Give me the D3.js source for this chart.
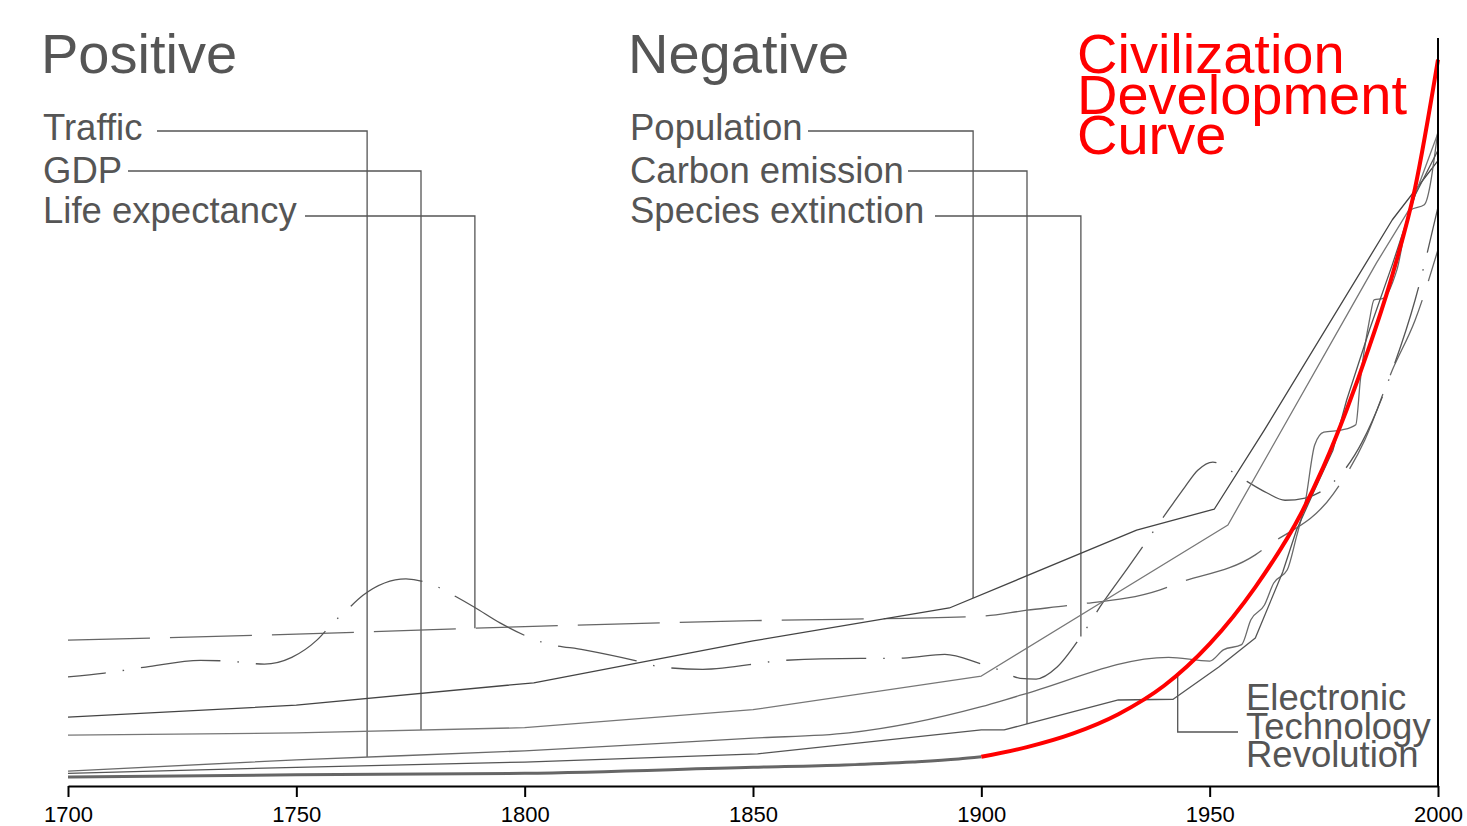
<!DOCTYPE html>
<html>
<head>
<meta charset="utf-8">
<script src="https://cdn.jsdelivr.net/npm/d3@7"></script>
<style>
  html, body { margin: 0; padding: 0; background: #fff; }
  svg { display: block; font-family: "Liberation Sans", Arial, sans-serif; }
</style>
</head>
<body>
<svg id="chart" width="1467" height="826"></svg>
<script>
// ---------------- DATA ----------------
const xTicks = [1700, 1750, 1800, 1850, 1900, 1950, 2000];

const positiveLabels = ["Traffic", "GDP", "Life expectancy"];
const negativeLabels = ["Population", "Carbon emission", "Species extinction"];
const curveTitle = ["Civilization", "Development", "Curve"];
const eventLabel = ["Electronic", "Technology", "Revolution"];
const eventYear = 1943;

// Civilization development curve: grey part before 1900, red part after
const civBase = [[1700,1.2],[1750,1.5],[1800,1.7],[1850,2.5],[1870,2.8],[1885,3.2],[1895,3.6],[1900,3.9]];
const civRed = [[1900,3.9],[1910,5.2],[1920,7.0],[1930,9.6],[1940,13.4],[1950,19.0],[1960,26.6],
  [1970,36.4],[1975,42.8],[1980,50.3],[1985,58.8],[1990,68.3],[1995,80.0],[2000,97.1]];

// Population (solid, darkest)
const population = [[1700,9.2],[1750,10.8],[1802,13.8],[1850,19.4],[1893,23.8],[1934,34.2],
  [1951,37.0],[1962,47.6],[1990,75.7],[2000,83.6]];

// GDP (solid, light)
const gdp = [[1700,6.8],[1750,7.1],[1800,7.8],[1850,10.2],[1900,14.7],[1954,34.9],
  [1986.5,69.9],[1994,77.4],[2000,87.3]];

// Traffic (solid, wavy near the end)
const traffic = [[1700,2.0],[1750,3.5],[1800,4.7],[1850,6.4],[1871,7.1],[1900,10.6],[1909,12.2],
  [1941,17.2],[1950,16.7],[1953,18.2],[1957,18.9],[1959,22.2],[1962,24.2],[1964,27.1],[1967,28.9],
  [1969,33.3],[1971,38.2],[1973,45.6],[1975,47.3],[1979,47.6],[1982,48.3],[1983,54.3],[1985,62.3],
  [1986,65.0],[1988,65.2],[1991,69.0],[1994,77.0],[1997,77.7],[2000,87.7]];

// Carbon emission (solid)
const carbon = [[1700,1.7],[1750,2.5],[1800,3.2],[1851,4.3],[1900,7.5],[1905,7.5],[1910,8.3],
  [1930,11.5],[1942,11.6],[1952,15.9],[1960,19.8],[1966,28.6],[1969,34.2],[1973,39.6],[1977,44.9],
  [1980,51.6],[1985,61.0],[1990,69.7],[1995,79.0],[2000,85.0]];

// Life expectancy (long dash)
const lifeExpectancy = [[1700,19.5],[1750,20.3],[1800,21.3],[1850,22.1],[1900,22.7],[1910,23.5],
  [1920,24.2],[1939,26.2],[1943,27.1],[1960,30.9],[1963,32.2],[1977,39.0],[1984,46.3],[1990,55.6],
  [1995,62.3],[2000,71.7]];

// Species extinction (dash-dot)
const species = [[1700,14.6],[1708,15.1],[1717,15.9],[1729,16.8],[1735,16.7],[1743,16.3],[1749,17.2],
  [1754.5,19.5],[1758,21.8],[1761,23.5],[1764.6,25.5],[1774,27.7],[1781,26.6],[1785,25.3],[1789,23.9],
  [1794.6,21.8],[1804.5,19.1],[1813,18.2],[1824,16.8],[1830,15.9],[1839,15.6],[1857,16.8],[1865,17.0],
  [1883,17.1],[1892,17.6],[1900,16.3],[1904,15.5],[1908.5,14.4],[1912,14.3],[1916.6,15.9],[1921.6,19.8],
  [1926.6,24.5],[1932,29.1],[1942,37.8],[1944.6,40.0],[1947.4,42.2],[1950.7,43.3],[1954.4,42.2],
  [1957.7,40.9],[1962.5,39.2],[1966.5,38.2],[1970.9,38.5],[1983.4,46.0],[1990,55.6],[1995,65.0],[2000,77.4]];

// Leader line target years (where labels point on their series)
const positiveLeaderYears = [1765.5, 1777.3, 1789.1];
const negativeLeaderYears = [1898.2, 1910, 1921.8];

// ---------------- CHART ----------------
const svg = d3.select("#chart");
const x = d3.scaleLinear().domain([1700, 2000]).range([68, 1438]);
const y = d3.scaleLinear().domain([0, 100]).range([786, 38]);

function valueAt(series, yr) {
  for (let i = 0; i < series.length - 1; i++) {
    const a = series[i], b = series[i + 1];
    if (yr >= a[0] && yr <= b[0]) return a[1] + (b[1] - a[1]) * (yr - a[0]) / (b[0] - a[0]);
  }
  return series[series.length - 1][1];
}

const lineLin = d3.line().x(d => x(d[0])).y(d => y(d[1]));
const lineSmooth = d3.line().x(d => x(d[0])).y(d => y(d[1])).curve(d3.curveMonotoneX);

const textColor = "#555";
const leaderColor = "#555";

// Leader lines
const posSeries = [traffic, gdp, lifeExpectancy];
const negSeries = [population, carbon, species];
const posLabelY = [140, 183, 223];
const posLineY = [131, 171, 216];
const posLineStart = [157, 128, 305];
const negLineStart = [808, 908, 935];

const gLead = svg.append("g").attr("fill", "none").attr("stroke", leaderColor).attr("stroke-width", 1.3);
positiveLeaderYears.forEach((yr, i) => {
  const xx = x(yr), yy = y(valueAt(posSeries[i], yr));
  gLead.append("path").attr("d", `M${posLineStart[i]},${posLineY[i]}H${xx}V${yy}`);
});
negativeLeaderYears.forEach((yr, i) => {
  const xx = x(yr), yy = y(valueAt(negSeries[i], yr));
  gLead.append("path").attr("d", `M${negLineStart[i]},${posLineY[i]}H${xx}V${yy}`);
});
// Electronic technology revolution leader
{
  const xx = x(eventYear), yy = y(valueAt(civRed, eventYear));
  gLead.append("path").attr("d", `M${xx},${yy}V732H1238`);
}

// Series
const gLines = svg.append("g").attr("fill", "none").attr("stroke-linejoin", "round");
gLines.append("path").datum(lifeExpectancy).attr("d", lineSmooth)
  .attr("stroke", "#666").attr("stroke-width", 1.3).attr("stroke-dasharray", "82,20");
gLines.append("path").datum(species).attr("d", lineSmooth)
  .attr("stroke", "#555").attr("stroke-width", 1.3).attr("stroke-dasharray", "80,17,1.5,17")
  .attr("stroke-dashoffset", 42);
gLines.append("path").datum(population).attr("d", lineLin)
  .attr("stroke", "#444").attr("stroke-width", 1.3);
gLines.append("path").datum(gdp).attr("d", lineLin)
  .attr("stroke", "#777").attr("stroke-width", 1.3);
gLines.append("path").datum(traffic).attr("d", lineSmooth)
  .attr("stroke", "#6a6a6a").attr("stroke-width", 1.3);
gLines.append("path").datum(carbon).attr("d", lineLin)
  .attr("stroke", "#555").attr("stroke-width", 1.3);
gLines.append("path").datum(civBase).attr("d", lineSmooth)
  .attr("stroke", "#666").attr("stroke-width", 3);
gLines.append("path").datum(civRed).attr("d", lineSmooth)
  .attr("stroke", "#ff0000").attr("stroke-width", 4);

// Axes
const axis = d3.axisBottom(x).tickValues(xTicks).tickFormat(d3.format("d"))
  .tickSize(11).tickSizeOuter(0).tickPadding(9);
const gx = svg.append("g").attr("transform", `translate(0,${y(0)})`).call(axis);
gx.select(".domain").attr("stroke", "#000").attr("stroke-width", 2);
gx.selectAll(".tick line").attr("stroke", "#000").attr("stroke-width", 2);
gx.selectAll(".tick text").attr("fill", "#000").style("font-size", "22px")
  .style("font-family", "'Liberation Sans', Arial, sans-serif");

svg.append("line").attr("x1", x(2000)).attr("x2", x(2000))
  .attr("y1", y(0) + 1).attr("y2", y(100))
  .attr("stroke", "#000").attr("stroke-width", 2);

// Titles
svg.append("text").attr("x", 41).attr("y", 73).attr("fill", textColor)
  .style("font-size", "56px").text("Positive");
svg.append("text").attr("x", 628).attr("y", 73).attr("fill", textColor)
  .style("font-size", "56px").text("Negative");

positiveLabels.forEach((t, i) => {
  svg.append("text").attr("x", 43).attr("y", posLabelY[i]).attr("fill", textColor)
    .style("font-size", "36.5px").text(t);
});
negativeLabels.forEach((t, i) => {
  svg.append("text").attr("x", 630).attr("y", posLabelY[i]).attr("fill", textColor)
    .style("font-size", "36.5px").text(t);
});

curveTitle.forEach((t, i) => {
  svg.append("text").attr("x", 1077).attr("y", 73 + i * 40.5).attr("fill", "#ff0000")
    .style("font-size", "56px").text(t);
});

eventLabel.forEach((t, i) => {
  svg.append("text").attr("x", 1246).attr("y", 710 + i * 28.5).attr("fill", textColor)
    .style("font-size", "36.5px").text(t);
});
</script>
</body>
</html>
